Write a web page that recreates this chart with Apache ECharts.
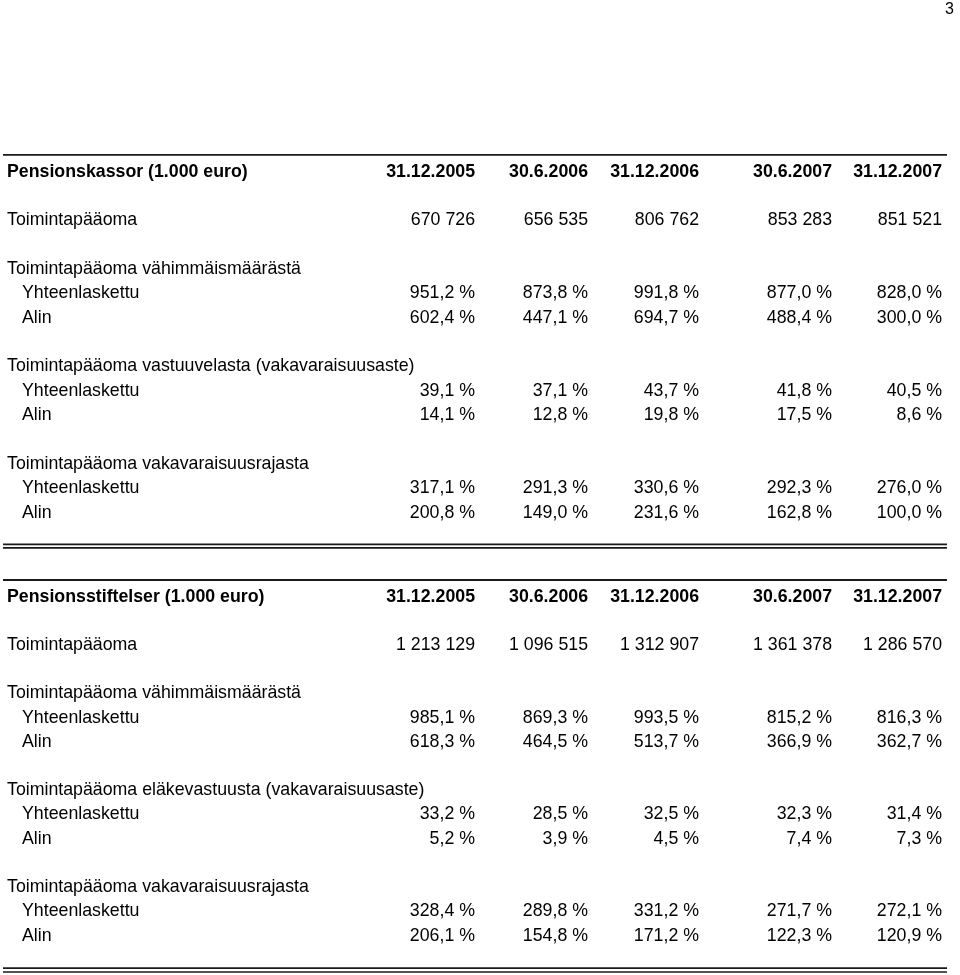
<!DOCTYPE html>
<html>
<head>
<meta charset="utf-8">
<script src="https://cdn.jsdelivr.net/npm/echarts@6/dist/echarts.min.js"></script>
<style>
  html, body { margin: 0; padding: 0; background: #fff; }
  #chart { width: 960px; height: 975px; }
</style>
</head>
<body>
<div id="chart"></div>
<script>
// ---------- DATA ----------
const dateLabels = ['31.12.2005', '30.6.2006', '31.12.2006', '30.6.2007', '31.12.2007'];

const kassorTitle = 'Pensionskassor (1.000 euro)';
const kassorCapital = [670726, 656535, 806762, 853283, 851521];
const kassorMinTotal = [951.2, 873.8, 991.8, 877.0, 828.0];
const kassorMinLowest = [602.4, 447.1, 694.7, 488.4, 300.0];
const kassorSolvTotal = [39.1, 37.1, 43.7, 41.8, 40.5];
const kassorSolvLowest = [14.1, 12.8, 19.8, 17.5, 8.6];
const kassorLimitTotal = [317.1, 291.3, 330.6, 292.3, 276.0];
const kassorLimitLowest = [200.8, 149.0, 231.6, 162.8, 100.0];

const stiftTitle = 'Pensionsstiftelser (1.000 euro)';
const stiftCapital = [1213129, 1096515, 1312907, 1361378, 1286570];
const stiftMinTotal = [985.1, 869.3, 993.5, 815.2, 816.3];
const stiftMinLowest = [618.3, 464.5, 513.7, 366.9, 362.7];
const stiftSolvTotal = [33.2, 28.5, 32.5, 32.3, 31.4];
const stiftSolvLowest = [5.2, 3.9, 4.5, 7.4, 7.3];
const stiftLimitTotal = [328.4, 289.8, 331.2, 271.7, 272.1];
const stiftLimitLowest = [206.1, 154.8, 171.2, 122.3, 120.9];

const lblCapital = 'Toimintapääoma';
const lblMin = 'Toimintapääoma vähimmäismäärästä';
const lblSolvKassor = 'Toimintapääoma vastuuvelasta (vakavaraisuusaste)';
const lblSolvStift = 'Toimintapääoma eläkevastuusta (vakavaraisuusaste)';
const lblLimit = 'Toimintapääoma vakavaraisuusrajasta';
const lblTotal = 'Yhteenlaskettu';
const lblLowest = 'Alin';
const pageNumber = '3';

// ---------- LAYOUT (not data) ----------
const colRight = [475, 588, 699, 832, 942];  // x-axis units
const labelX = 7, subLabelX = 22;
const FONT = '"Liberation Sans", Arial, Helvetica, sans-serif';
const FS = 17.75;
const TEXT_DY = 1.5;

function fmtInt(v) {
  return String(v).replace(/\B(?=(\d{3})+(?!\d))/g, ' ');
}
function fmtPct(v) {
  return v.toFixed(1).replace('.', ',') + ' %';
}

function buildTable(title, capital, minT, minL, solvLabel, solvT, solvL, limT, limL, rules) {
  const cells = [];
  const add = (x, row, text, align, bold) => cells.push({ x, row, text, align, bold });
  add(labelX, 0, title, 'left', true);
  dateLabels.forEach((d, i) => add(colRight[i], 0, d, 'right', true));
  add(labelX, 2, lblCapital, 'left');
  capital.forEach((v, i) => add(colRight[i], 2, fmtInt(v), 'right'));
  const block = (row, head, tot, low) => {
    add(labelX, row, head, 'left');
    add(subLabelX, row + 1, lblTotal, 'left');
    add(subLabelX, row + 2, lblLowest, 'left');
    tot.forEach((v, i) => add(colRight[i], row + 1, fmtPct(v), 'right'));
    low.forEach((v, i) => add(colRight[i], row + 2, fmtPct(v), 'right'));
  };
  block(4, lblMin, minT, minL);
  block(8, solvLabel, solvT, solvL);
  block(12, lblLimit, limT, limL);
  rules.forEach(r => cells.push({ rule: true, x: 3, x2: 947, row: r.row, w: r.w }));
  return cells;
}

const table1 = buildTable(kassorTitle, kassorCapital, kassorMinTotal, kassorMinLowest,
  lblSolvKassor, kassorSolvTotal, kassorSolvLowest, kassorLimitTotal, kassorLimitLowest,
  [{ row: -0.62, w: 1.8 }, { row: 15.37, w: 1.7 }, { row: 15.51, w: 1.7 }]);
const table2 = buildTable(stiftTitle, stiftCapital, stiftMinTotal, stiftMinLowest,
  lblSolvStift, stiftSolvTotal, stiftSolvLowest, stiftLimitTotal, stiftLimitLowest,
  [{ row: -0.62, w: 1.8 }, { row: 15.41, w: 1.7 }, { row: 15.57, w: 1.7 }]);

function makeSeries(cells, gridIdx) {
  return {
    type: 'custom',
    xAxisIndex: gridIdx,
    yAxisIndex: gridIdx,
    silent: true,
    clip: false,
    data: cells.map(c => [c.x, c.row]),
    renderItem: function (params, api) {
      const c = cells[params.dataIndex];
      const p = api.coord([api.value(0), api.value(1)]);
      if (c.rule) {
        const p2 = api.coord([c.x2, api.value(1)]);
        return {
          type: 'line',
          shape: { x1: p[0], y1: p[1], x2: p2[0], y2: p2[1] },
          style: { stroke: '#1a1a1a', lineWidth: c.w }
        };
      }
      return {
        type: 'text',
        x: p[0],
        y: Math.round(p[1] + TEXT_DY),
        style: {
          text: c.text,
          fill: '#000',
          font: (c.bold ? 'bold ' : '') + FS + 'px ' + FONT,
          align: c.align,
          verticalAlign: 'middle'
        }
      };
    }
  };
}

const chart = echarts.init(document.getElementById('chart'), null, { renderer: 'canvas' });
const xAx = (g) => ({ type: 'value', gridIndex: g, min: 0, max: 960, show: false });
const yAx = (g) => ({ type: 'value', gridIndex: g, min: 0, max: 14, inverse: true, show: false });

chart.setOption({
  animation: false,
  backgroundColor: '#fff',
  grid: [
    { left: 0, width: 960, top: 170, height: 341 },
    { left: 0, width: 960, top: 595, height: 339 }
  ],
  xAxis: [xAx(0), xAx(1)],
  yAxis: [yAx(0), yAx(1)],
  graphic: [{
    type: 'text', right: 6, top: 2,
    style: { text: pageNumber, font: '16px ' + FONT, fill: '#000' }
  }],
  series: [makeSeries(table1, 0), makeSeries(table2, 1)]
});
</script>
</body>
</html>
